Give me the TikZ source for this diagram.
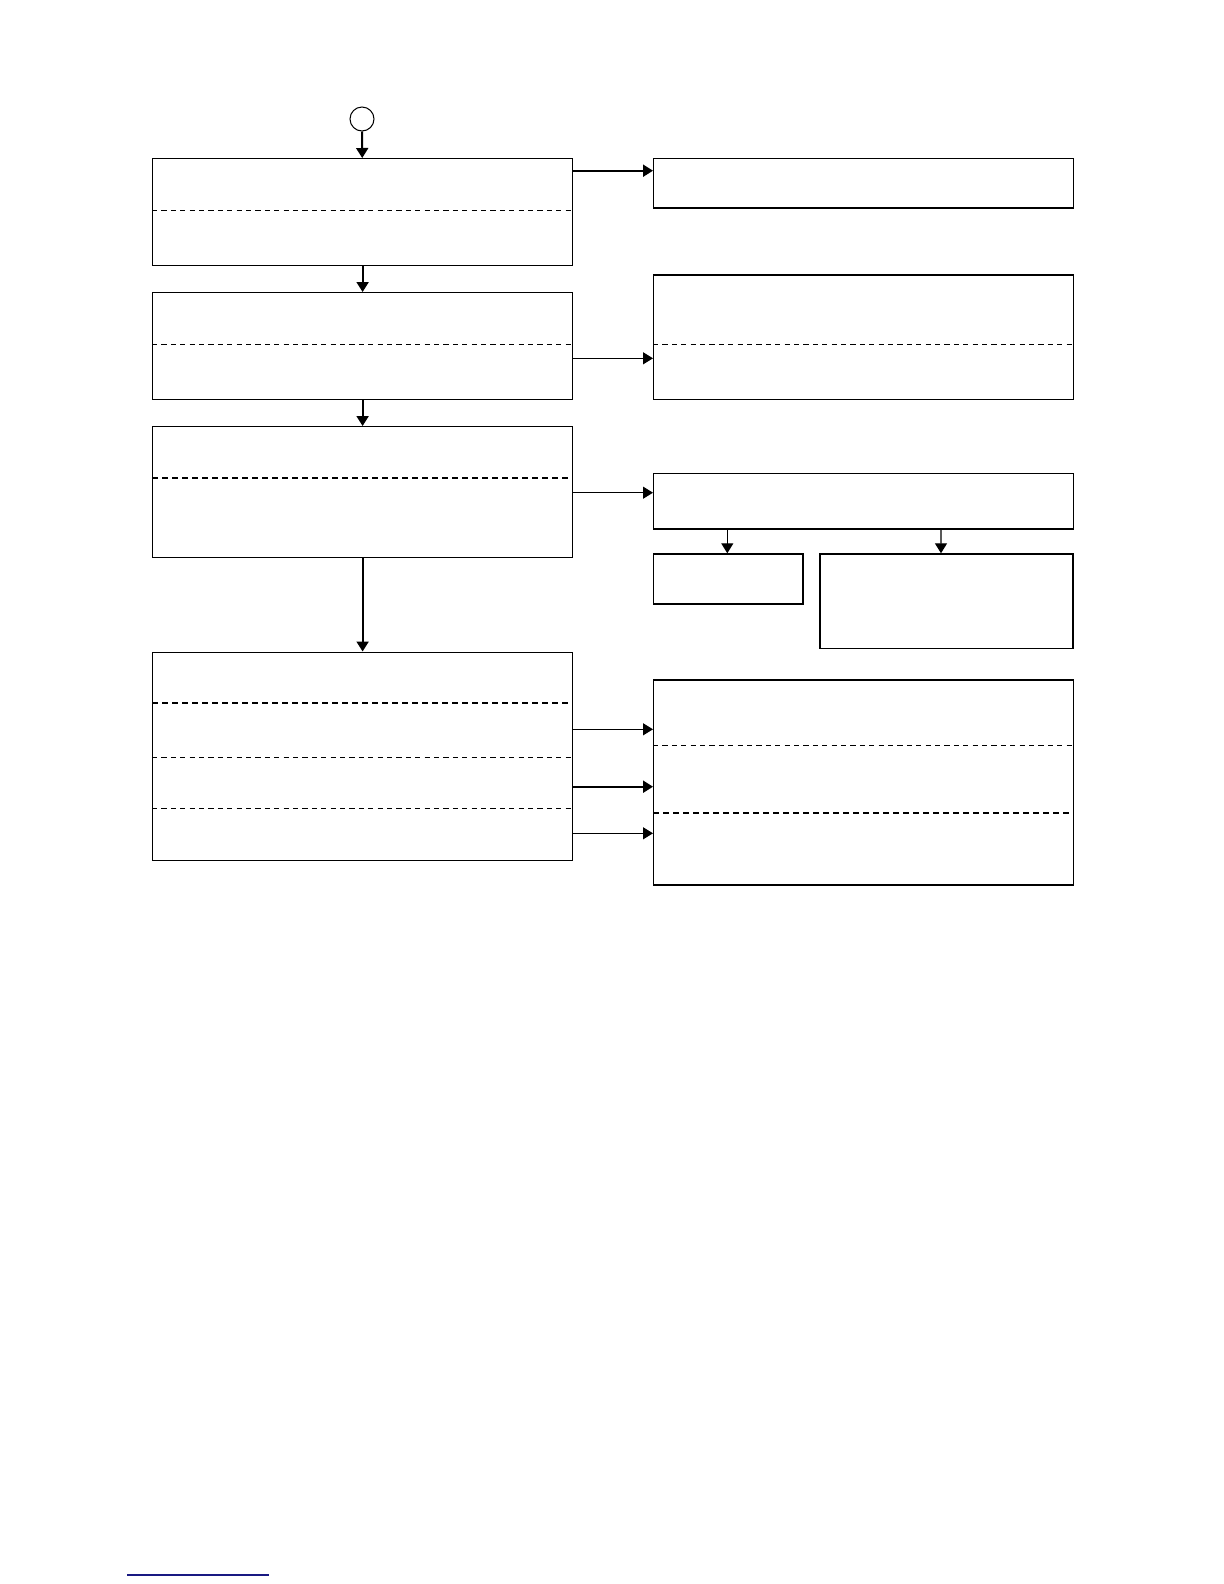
\documentclass[tikz,border=0pt]{standalone}
\usetikzlibrary{arrows.meta,calc}
\tikzset{
    box/.style={draw, line width=0.6pt, anchor=north west, inner sep=0pt},
    sep/.style={line width=0.5pt, dash pattern=on 2.6bp off 2.1bp},
    sepbold/.style={line width=0.9pt, dash pattern=on 3bp off 2bp},
    arr/.style={line width=0.6pt, -{Triangle[length=5bp,width=6bp]}},
    arrbold/.style={line width=1pt, -{Triangle[length=5bp,width=6bp]}}
}
\begin{document}
\begin{tikzpicture}[x=0.5bp,y=-0.5bp]
    \useasboundingbox (0,0) rectangle (1224,1584);
    %left column
    \node [draw, circle, line width=0.5pt, minimum size=12bp, inner sep=0pt] (start) at (362,119) {};
    \node [box, minimum width=210bp, minimum height=53.5bp] (A) at (152,158) {};
    \node [box, minimum width=210bp, minimum height=53.5bp] (B) at (152,292) {};
    \node [box, minimum width=210bp, minimum height=65.5bp] (C) at (152,426) {};
    \node [box, minimum width=210bp, minimum height=104.25bp] (D) at (152,651.5) {};
    %right column
    \node [box, minimum width=210bp, minimum height=24.5bp] (R1) at (653,158.3) {};
    \node [box, minimum width=210bp, minimum height=62.35bp] (R2) at (653,274.3) {};
    \node [box, minimum width=210bp, minimum height=27.8bp] (R3) at (653,472.7) {};
    \node [box, minimum width=74.65bp, minimum height=25bp] (R3a) at (653,553.3) {};
    \node [box, minimum width=126.5bp, minimum height=47.2bp] (R3b) at (819.3,553.3) {};
    \node [box, minimum width=210bp, minimum height=102.5bp] (R4) at (653,679.3) {};
    %separators
    \draw [sep] ($(A.north west)+(0,52)$) -- ($(A.north east)+(0,52)$);
    \draw [sep] ($(B.north west)+(0,52)$) -- ($(B.north east)+(0,52)$);
    \draw [sepbold] ($(C.north west)+(0,52)$) -- ($(C.north east)+(0,52)$);
    \draw [sepbold] ($(D.north west)+(0,51.2)$) -- ($(D.north east)+(0,51.2)$);
    \draw [sep] ($(D.north west)+(0,105.8)$) -- ($(D.north east)+(0,105.8)$);
    \draw [sep] ($(D.north west)+(0,157.2)$) -- ($(D.north east)+(0,157.2)$);
    \draw [sep] ($(R2.north west)+(0,69.7)$) -- ($(R2.north east)+(0,69.7)$);
    \draw [sep] ($(R4.north west)+(0,66)$) -- ($(R4.north east)+(0,66)$);
    \draw [sepbold] ($(R4.north west)+(0,133.7)$) -- ($(R4.north east)+(0,133.7)$);
    %down
    \draw [arrbold] (start) -- (A);
    \draw [arrbold] (A) -- (B);
    \draw [arrbold] (B) -- (C);
    \draw [arrbold] (C) -- (D);
    \draw [arr] ($(R3.south west)+(74.3,0)$) -- ($(R3a.north west)+(74.3,0)$);
    \draw [arr] ($(R3.south west)+(288,0)$) -- ($(R3b.north west)+(121.7,0)$);
    %across
    \draw [arrbold] ($(A.north east)+(0,12.7)$) -- ($(R1.north west)+(0,12.4)$);
    \draw [arr] ($(B.north east)+(0,66.3)$) -- ($(R2.north west)+(0,84)$);
    \draw [arr] ($(C.north east)+(0,66.7)$) -- ($(R3.north west)+(0,20)$);
    \draw [arr] ($(D.north east)+(0,77.8)$) -- ($(R4.north west)+(0,50)$);
    \draw [arrbold] ($(D.north east)+(0,135.2)$) -- ($(R4.north west)+(0,107.4)$);
    \draw [arr] ($(D.north east)+(0,181.8)$) -- ($(R4.north west)+(0,154)$);
    %foot
    \draw [line width=0.6pt, color={rgb,255:red,25;green,25;blue,130}] (127,1575) -- (269,1575);
\end{tikzpicture}
\end{document}
